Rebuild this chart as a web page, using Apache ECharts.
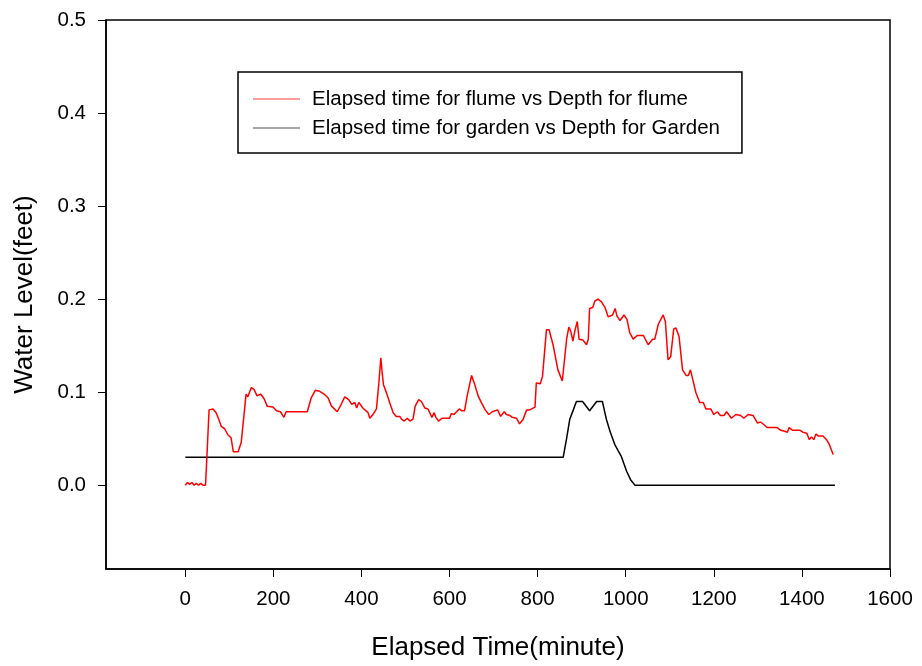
<!DOCTYPE html>
<html>
<head>
<meta charset="utf-8">
<script src="https://cdn.jsdelivr.net/npm/echarts@6/dist/echarts.min.js"></script>
<style>
html,body{margin:0;padding:0;background:#fff;}
#chart{width:922px;height:666px;}
</style>
</head>
<body>
<div id="chart"></div>
<script>
const flumeTime = [0,5,10,15,20,25,30,35,40,46,50,54,63,70,76,82,89,97,104,109,120,127,133,138,142,150,156,163,171,179,186,199,207,216,224,229,277,286,295,305,315,324,332,345,354,362,371,378,385,389,394,403,415,419,426,434,439,444,447,450,457,464,472,479,487,491,497,504,510,517,522,530,536,544,551,555,560,565,569,575,583,600,604,610,622,628,634,640,650,656,665,672,681,689,697,709,716,724,729,737,742,752,759,767,775,782,794,797,806,811,820,826,835,846,856,866,871,875,880,885,890,894,903,911,915,918,925,930,937,945,953,960,970,976,980,987,996,1003,1009,1017,1026,1040,1051,1061,1066,1074,1085,1090,1096,1102,1109,1114,1121,1129,1137,1142,1147,1152,1159,1168,1176,1182,1193,1200,1208,1215,1223,1229,1240,1250,1261,1268,1278,1289,1299,1306,1314,1321,1344,1352,1361,1367,1371,1379,1396,1402,1411,1417,1422,1427,1432,1437,1448,1456,1462,1471];
const flumeDepth = [0.000,0.003,0.001,0.003,0.000,0.002,0.000,0.002,0.000,0.000,0.040,0.081,0.082,0.078,0.071,0.063,0.061,0.054,0.051,0.036,0.036,0.046,0.074,0.098,0.095,0.105,0.103,0.096,0.098,0.093,0.085,0.084,0.080,0.079,0.073,0.079,0.079,0.094,0.102,0.101,0.098,0.094,0.085,0.079,0.087,0.095,0.092,0.087,0.089,0.083,0.089,0.083,0.078,0.072,0.076,0.082,0.107,0.137,0.121,0.108,0.099,0.089,0.078,0.074,0.074,0.071,0.069,0.072,0.069,0.071,0.085,0.092,0.090,0.083,0.082,0.081,0.073,0.078,0.073,0.069,0.072,0.072,0.077,0.076,0.082,0.080,0.080,0.096,0.118,0.110,0.096,0.089,0.081,0.076,0.079,0.081,0.074,0.079,0.076,0.075,0.073,0.072,0.066,0.071,0.081,0.081,0.084,0.110,0.109,0.117,0.167,0.167,0.151,0.124,0.112,0.158,0.170,0.166,0.155,0.167,0.176,0.157,0.156,0.151,0.157,0.190,0.191,0.198,0.200,0.197,0.191,0.181,0.183,0.190,0.182,0.177,0.183,0.178,0.164,0.157,0.161,0.161,0.151,0.157,0.157,0.173,0.183,0.176,0.135,0.138,0.168,0.169,0.160,0.124,0.118,0.118,0.124,0.114,0.100,0.089,0.089,0.082,0.082,0.076,0.079,0.075,0.075,0.079,0.072,0.076,0.075,0.072,0.076,0.075,0.067,0.068,0.065,0.062,0.062,0.059,0.058,0.057,0.062,0.059,0.059,0.057,0.056,0.049,0.052,0.049,0.055,0.053,0.053,0.049,0.044,0.033];
const gardenTime = [0,858,866,873,881,888,902,918,934,947,956,965,975,983,990,1002,1011,1021,1475];
const gardenDepth = [0.030,0.030,0.051,0.071,0.081,0.090,0.090,0.080,0.090,0.090,0.071,0.057,0.044,0.037,0.031,0.015,0.006,0.000,0.000];
const xTicks = [0,200,400,600,800,1000,1200,1400,1600];
const yTicks = [0.0,0.1,0.2,0.3,0.4,0.5];
const seriesNames = ['Elapsed time for flume vs Depth for flume','Elapsed time for garden vs Depth for Garden'];
const xTitle = 'Elapsed Time(minute)';
const yTitle = 'Water Level(feet)';

const zip = (a,b) => a.map((v,i)=>[v,b[i]]);
const FONT = "'Liberation Sans', Arial, sans-serif";
const chart = echarts.init(document.getElementById('chart'), null, {renderer:'canvas'});
chart.setOption({
  animation:false,
  backgroundColor:'#fff',
  grid:{left:106,right:32,top:20,bottom:96,show:true,borderColor:'#000',borderWidth:1.5,containLabel:false},
  legend:{
    orient:'vertical',left:238,top:72,
    data:[
      {name:seriesNames[0],icon:'rect',itemStyle:{color:'#ff3c3c',borderWidth:0}},
      {name:seriesNames[1],icon:'rect',itemStyle:{color:'#505050',borderWidth:0}}
    ],
    itemWidth:47,itemHeight:1.2,itemGap:7,
    padding:[16,22,14,15],
    borderColor:'#000',borderWidth:1.5,
    textStyle:{fontFamily:FONT,fontSize:20.5,color:'#000',lineHeight:22,padding:[0,0,0,7]}
  },
  xAxis:{
    type:'value',min:-180,max:1600,
    name:xTitle,nameLocation:'middle',nameGap:66,
    nameTextStyle:{fontFamily:FONT,fontSize:26,color:'#000'},
    axisLine:{show:true,onZero:false,lineStyle:{color:'#000',width:1.5}},
    axisTick:{show:true,inside:false,length:8,customValues:xTicks,lineStyle:{color:'#000',width:1}},
    axisLabel:{customValues:xTicks,margin:20,fontFamily:FONT,fontSize:20.5,color:'#000',formatter:v=>String(v)},
    splitLine:{show:false}
  },
  yAxis:{
    type:'value',min:-0.09,max:0.5,
    name:yTitle,nameLocation:'middle',nameGap:68,nameRotate:90,
    nameTextStyle:{fontFamily:FONT,fontSize:26,color:'#000'},
    axisLine:{show:true,onZero:false,lineStyle:{color:'#000',width:1.5}},
    axisTick:{show:true,inside:false,length:8,customValues:yTicks,lineStyle:{color:'#000',width:1}},
    axisLabel:{customValues:yTicks,margin:20,fontFamily:FONT,fontSize:20.5,color:'#000',formatter:v=>v.toFixed(1)},
    splitLine:{show:false}
  },
  series:[
    {name:seriesNames[0],type:'line',data:zip(flumeTime,flumeDepth),symbol:'none',lineStyle:{color:'#ff0000',width:1.5},itemStyle:{color:'#ff0000'},z:3},
    {name:seriesNames[1],type:'line',data:zip(gardenTime,gardenDepth),symbol:'none',lineStyle:{color:'#000000',width:1.5},itemStyle:{color:'#000000'},z:2}
  ]
});
</script>
</body>
</html>
